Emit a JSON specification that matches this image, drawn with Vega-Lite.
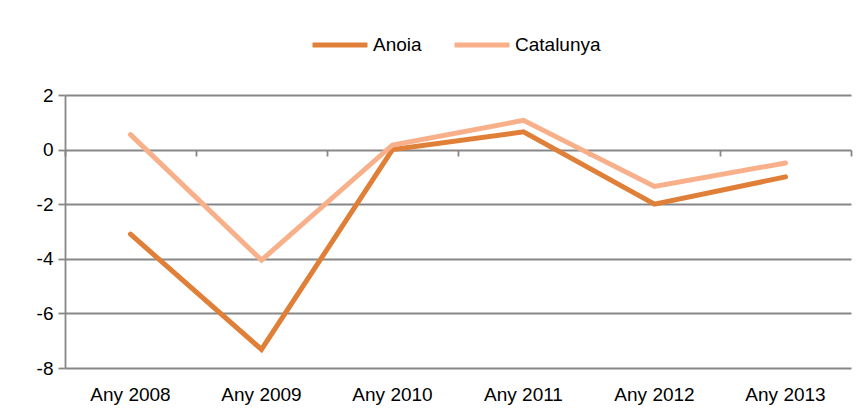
{
  "$schema": "https://vega.github.io/schema/vega-lite/v6.json",
  "width": 786,
  "height": 273,
  "autosize": {"type": "none"},
  "padding": {"left": 65, "top": 95, "right": 17, "bottom": 51},
  "background": "white",
  "config": {"view": {"stroke": null}, "font": "Liberation Sans"},
  "data": {
    "values": [
      {"any": "Any 2008", "serie": "Anoia", "valor": -3.1},
      {"any": "Any 2009", "serie": "Anoia", "valor": -7.32},
      {"any": "Any 2010", "serie": "Anoia", "valor": 0.0},
      {"any": "Any 2011", "serie": "Anoia", "valor": 0.65},
      {"any": "Any 2012", "serie": "Anoia", "valor": -2.0},
      {"any": "Any 2013", "serie": "Anoia", "valor": -1.0},
      {"any": "Any 2008", "serie": "Catalunya", "valor": 0.55},
      {"any": "Any 2009", "serie": "Catalunya", "valor": -4.05},
      {"any": "Any 2010", "serie": "Catalunya", "valor": 0.17},
      {"any": "Any 2011", "serie": "Catalunya", "valor": 1.07},
      {"any": "Any 2012", "serie": "Catalunya", "valor": -1.35},
      {"any": "Any 2013", "serie": "Catalunya", "valor": -0.49}
    ]
  },
  "resolve": {"axis": {"x": "independent"}},
  "layer": [
    {
      "mark": {"type": "line", "opacity": 0},
      "encoding": {
        "x": {
          "field": "any", "type": "nominal", "sort": null, "bandPosition": 0.5,
          "scale": {"type": "band", "paddingInner": 0, "paddingOuter": 0},
          "axis": {
            "orient": "bottom", "offset": -218, "labels": false, "domain": false,
            "ticks": true, "tickBand": "extent", "tickSize": 6, "tickWidth": 1.8,
            "tickColor": "#878787", "grid": false, "title": null
          }
        },
        "y": {"field": "valor", "type": "quantitative", "scale": {"domain": [-8, 2], "nice": false, "zero": false}}
      }
    },
    {
      "mark": {"type": "line", "strokeWidth": 5, "strokeCap": "round", "strokeJoin": "miter"},
      "encoding": {
        "x": {
          "field": "any", "type": "nominal", "sort": null, "bandPosition": 0.5,
          "axis": {
            "orient": "bottom", "labelAngle": 0, "labelFontSize": 19, "labelColor": "black",
            "labelPadding": 17, "domain": false, "ticks": false, "grid": false, "title": null
          }
        },
        "y": {
          "field": "valor", "type": "quantitative",
          "scale": {"domain": [-8, 2], "nice": false, "zero": false},
          "axis": {
            "values": [-8, -6, -4, -2, 0, 2], "grid": true, "gridColor": "#878787", "gridWidth": 1.8,
            "domainColor": "#878787", "domainWidth": 1.8, "tickColor": "#878787", "tickWidth": 1.8,
            "tickSize": 7, "labelFontSize": 19, "labelColor": "black", "labelPadding": 5, "title": null,
            "labelExpr": "datum.value < 0 ? '-' + abs(datum.value) : '' + datum.value"
          }
        },
        "color": {
          "field": "serie", "type": "nominal",
          "scale": {"domain": ["Anoia", "Catalunya"], "range": ["#E07F38", "#F8B08A"]},
          "legend": {
            "title": null, "orient": "none", "legendX": 245, "legendY": -80, "direction": "horizontal",
            "symbolType": "stroke", "symbolStrokeWidth": 5, "symbolSize": 3025,
            "labelFontSize": 19, "labelColor": "black", "labelOffset": 3, "columnPadding": 22
          }
        }
      }
    }
  ]
}
